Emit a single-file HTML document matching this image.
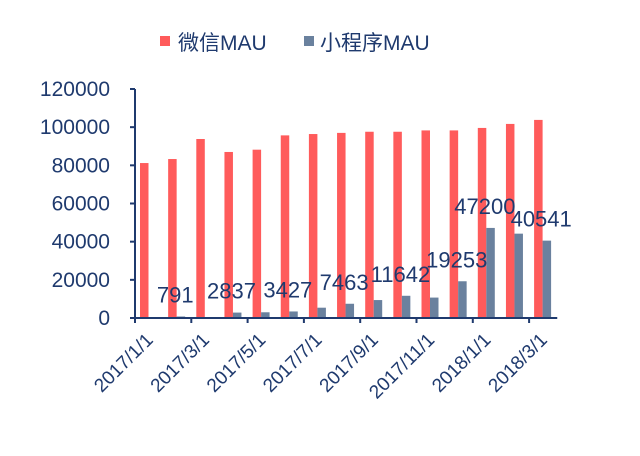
<!DOCTYPE html>
<html><head><meta charset="utf-8"><style>
body{margin:0;background:#fff;}
svg text{font-family:"Liberation Sans","Noto Sans CJK SC",sans-serif;fill:#1f3a6e;}
</style></head><body>
<svg width="640" height="451" viewBox="0 0 640 451">
<g>
<rect x="160" y="36" width="10" height="10" fill="#ff5b5b"/>
<text x="178" y="50" font-size="21">微信MAU</text>
<rect x="304" y="36" width="10" height="10" fill="#6a819e"/>
<text x="320" y="50" font-size="21">小程序MAU</text>
</g>
<g id="plot"></g>
</svg>
<script>
const categories=["2017/1/1","2017/2/1","2017/3/1","2017/4/1","2017/5/1","2017/6/1","2017/7/1","2017/8/1","2017/9/1","2017/10/1","2017/11/1","2017/12/1","2018/1/1","2018/2/1","2018/3/1"];
const wechat=[81200,83300,93800,87000,88200,95700,96400,97000,97600,97600,98300,98300,99600,101700,103800];
const mini=[0,791,0,2837,3000,3427,5400,7463,9400,11642,10700,19253,47200,44200,40541];
const showLabel=[false,true,false,true,false,true,false,true,false,true,false,true,true,false,true];
const yTicks=[0,20000,40000,60000,80000,100000,120000];
const NS="http://www.w3.org/2000/svg";
const g=document.getElementById('plot');
const x0=135,cw=28.15,y0=318,yTop=89,yMax=120000;
const y=v=>y0-(v/yMax)*(y0-yTop);
const xc=i=>x0+i*cw;
function mk(t,a){const e=document.createElementNS(NS,t);for(const k in a)e.setAttribute(k,a[k]);g.appendChild(e);return e;}
categories.forEach((c,i)=>{
  const r=mk('rect',{x:xc(i)+5,y:y(wechat[i]),width:8.5,height:y0-y(wechat[i]),fill:'#ff5b5b'});
  
  
  const b=mk('rect',{x:xc(i)+13.5,y:y(mini[i]),width:8.5,height:y0-y(mini[i]),fill:'#6a819e'});
  
  
  if(i%2===0){
    const t=mk('text',{x:0,y:0,'font-size':19,'text-anchor':'end',transform:`translate(${xc(i)+cw/2+5},${y0+23}) rotate(-45)`});
    t.textContent=categories[i];
    
    
  }
});
categories.forEach((c,i)=>{
  if(showLabel[i]){
    const t=mk('text',{x:xc(i)+cw/2-2,y:y(mini[i])-14,'font-size':22,'text-anchor':'middle'});
    t.textContent=mini[i];
    
    
  }
});
yTicks.forEach(v=>{
  const t=mk('text',{x:110,y:y(v)+7,'font-size':21,'text-anchor':'end'});
  t.textContent=v;
  
  
  const l=mk('line',{x1:x0-5,x2:x0,y1:y(v),y2:y(v),stroke:'#1f3a6e','stroke-width':2});
  
  
});
for(let i=0;i<=categories.length;i+=2){
  const l=mk('line',{x1:xc(i),x2:xc(i),y1:y0,y2:y0+5,stroke:'#1f3a6e','stroke-width':2});
  
  
}
const ya=mk('line',{x1:x0,x2:x0,y1:yTop,y2:y0,stroke:'#1f3a6e','stroke-width':2});


const xa=mk('line',{x1:x0,x2:x0+categories.length*cw,y1:y0,y2:y0,stroke:'#1f3a6e','stroke-width':2});


</script>
</body></html>
